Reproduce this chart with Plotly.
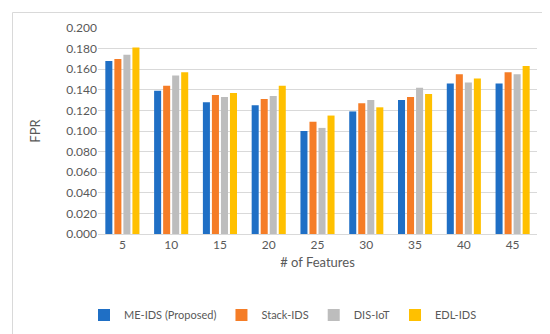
import plotly.graph_objects as go

categories = ["5", "10", "15", "20", "25", "30", "35", "40", "45"]
me_ids = [0.168, 0.139, 0.128, 0.125, 0.100, 0.119, 0.130, 0.146, 0.146]
stack_ids = [0.170, 0.144, 0.135, 0.131, 0.109, 0.127, 0.133, 0.155, 0.157]
dis_iot = [0.174, 0.154, 0.133, 0.134, 0.103, 0.130, 0.142, 0.147, 0.155]
edl_ids = [0.181, 0.157, 0.137, 0.144, 0.115, 0.123, 0.136, 0.151, 0.163]

series = [
    ("ME-IDS (Proposed)", me_ids, "#1F6FC5"),
    ("Stack-IDS", stack_ids, "#F57D27"),
    ("DIS-IoT", dis_iot, "#BDBDBD"),
    ("EDL-IDS", edl_ids, "#FFC000"),
]

W, H = 550, 334
L, R, T, B = 90, 21, 20, 108
pw, ph = W - L - R, H - T - B

fig = go.Figure()
for name, vals, col in series:
    fig.add_trace(go.Bar(x=categories, y=vals, name=name, marker_color=col,
                         marker_line_width=0))

def px_to_paper_x(px):
    return (px - L) / pw

def px_to_paper_y(py):
    return (H - B - py) / ph

fig.add_shape(type="rect", xref="paper", yref="paper",
              x0=px_to_paper_x(4.5), x1=px_to_paper_x(545.5),
              y0=px_to_paper_y(328.5), y1=px_to_paper_y(4.5),
              line=dict(color="#D9D9D9", width=1), fillcolor="rgba(0,0,0,0)",
              layer="below")

font_fam = "Lato, 'Open Sans', sans-serif"
fig.update_layout(
    width=W, height=H,
    margin=dict(l=L, r=R, t=T, b=B, autoexpand=False),
    paper_bgcolor="white", plot_bgcolor="white",
    barmode="group", bargap=0.26, bargroupgap=0.22,
    font=dict(family=font_fam, size=12, color="#595959"),
    xaxis=dict(showgrid=False, showline=True, linecolor="#D9D9D9",
               ticks="", tickfont=dict(size=12, color="#595959"),
               title=dict(text="# of Features", font=dict(size=13, color="#595959"), standoff=6)),
    yaxis=dict(range=[0, 0.2], dtick=0.02, tickformat=".3f",
               showgrid=True, gridcolor="#D9D9D9", gridwidth=1,
               zeroline=False, showline=False, ticks="",
               tickfont=dict(size=12, color="#595959"),
               title=dict(text="FPR", font=dict(size=13, color="#595959"), standoff=22)),
    legend=dict(orientation="h", xref="container", x=0.5, xanchor="center",
                yref="container", y=1 - 307 / H, yanchor="middle",
                font=dict(size=11, color="#595959"),
                itemwidth=30, tracegroupgap=0),
    showlegend=True,
)

fig.write_html("out.html")
